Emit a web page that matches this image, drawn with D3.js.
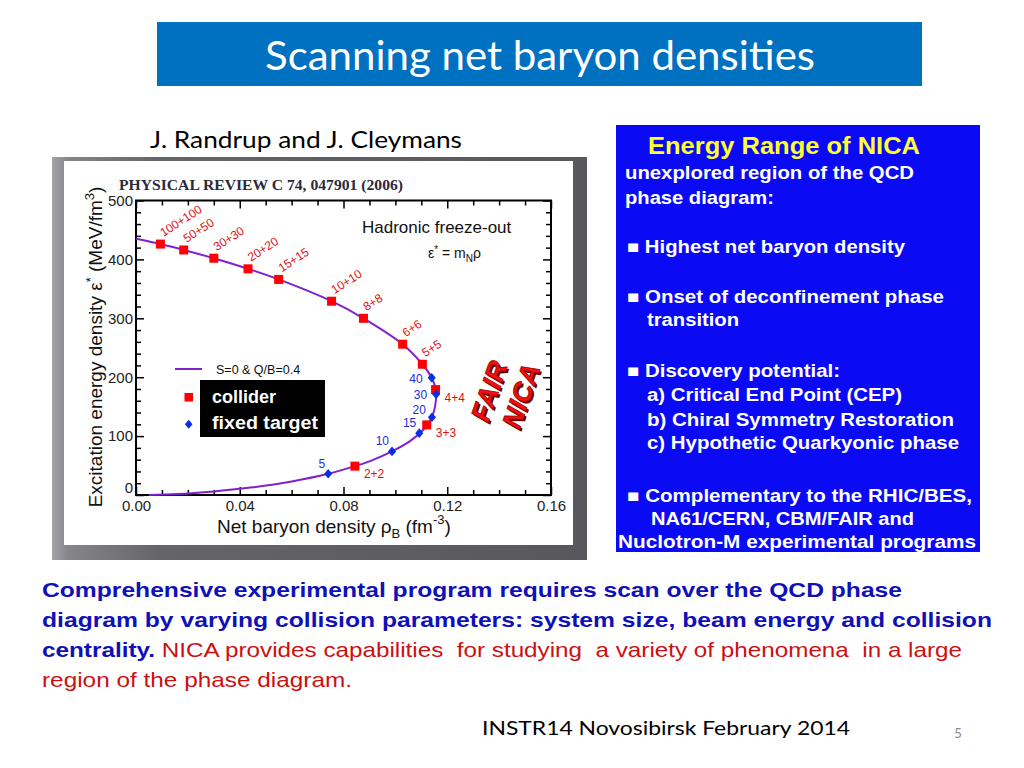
<!DOCTYPE html>
<html>
<head>
<meta charset="utf-8">
<script src="https://cdn.jsdelivr.net/npm/d3@7"></script>
<style>
  body { margin: 0; background: #fff; }
  svg { display: block; }
</style>
</head>
<body>
<svg id="slide" width="1024" height="768"></svg>
<script>
// collider points (red squares)
const colliderLabels = ["100+100", "50+50", "30+30", "20+20", "15+15", "10+10", "8+8", "6+6", "5+5", "4+4", "3+3", "2+2"];
const colliderRho = [0.0094, 0.0184, 0.0300, 0.0432, 0.0550, 0.0754, 0.0877, 0.1028, 0.1104, 0.1155, 0.1121, 0.0844];
const colliderEps = [426, 416, 402, 384, 366, 329, 300, 256, 222, 179, 119, 49];

// fixed target points (blue diamonds)
const fixedLabels = ["40", "30", "20", "15", "10", "5"];
const fixedRho = [0.1140, 0.1157, 0.1141, 0.1092, 0.0987, 0.0741];
const fixedEps = [199, 171, 132, 105, 74, 36];

// freeze-out curve S=0 & Q/B=0.4
const curveRho = [0.000, 0.0094, 0.0184, 0.0300, 0.0432, 0.0550, 0.0754, 0.0877, 0.1028, 0.1104, 0.1140, 0.1157, 0.1156, 0.1148, 0.1132, 0.1104, 0.1055, 0.0987, 0.0905, 0.0844, 0.0741, 0.0600, 0.0450, 0.0300, 0.0160, 0.0050];
const curveEps = [435, 426, 416, 402, 384, 366, 329, 300, 256, 222, 199, 177, 160, 141, 125, 109, 91, 74, 58, 49, 36, 23, 13, 6, 1.5, 0];

const xMajorTicks = [0, 0.04, 0.08, 0.12, 0.16];
const xMinorTicks = [0.01, 0.02, 0.03, 0.05, 0.06, 0.07, 0.09, 0.10, 0.11, 0.13, 0.14, 0.15];
const yMajorTicks = [0, 100, 200, 300, 400, 500];
const yMinorTicks = [20, 40, 60, 80, 120, 140, 160, 180, 220, 240, 260, 280, 320, 340, 360, 380, 420, 440, 460, 480];

const infoLines = [
  "unexplored region of the QCD",
  "phase diagram:",
  "\u25A0 Highest net baryon density",
  "\u25A0 Onset of deconfinement phase",
  "transition",
  "\u25A0 Discovery potential:",
  "a) Critical End Point (CEP)",
  "b) Chiral Symmetry Restoration",
  "c) Hypothetic Quarkyonic phase",
  "\u25A0 Complementary to the RHIC/BES,",
  "NA61/CERN, CBM/FAIR and",
  "Nuclotron-M experimental programs"
];

const arial = "'Liberation Sans', Arial, sans-serif";
const calibri = "Lato, 'Open Sans', sans-serif";

const svg = d3.select("#slide");

// ---- title bar ----
svg.append("rect").attr("x", 157).attr("y", 22).attr("width", 765).attr("height", 64).attr("fill", "#0070c0");
svg.append("text").attr("x", 540).attr("y", 70).attr("text-anchor", "middle")
  .attr("font-family", calibri).attr("font-size", 40).attr("fill", "#fff")
  .attr("textLength", 550).attr("lengthAdjust", "spacingAndGlyphs")
  .text("Scanning net baryon densities");

svg.append("text").attr("x", 150).attr("y", 148)
  .attr("font-family", calibri).attr("font-size", 24).attr("fill", "#000")
  .attr("textLength", 312).attr("lengthAdjust", "spacingAndGlyphs")
  .text("J. Randrup and J. Cleymans");

// ---- chart frame ----
const defs = svg.append("defs");
const grad = defs.append("linearGradient").attr("id", "frameGrad").attr("x1", "0").attr("x2", "1").attr("y1", "0").attr("y2", "0");
grad.append("stop").attr("offset", "0%").attr("stop-color", "#a2a2a8");
grad.append("stop").attr("offset", "3%").attr("stop-color", "#85858b");
grad.append("stop").attr("offset", "20%").attr("stop-color", "#646469");
grad.append("stop").attr("offset", "100%").attr("stop-color", "#58585c");
svg.append("rect").attr("x", 52).attr("y", 157).attr("width", 535).attr("height", 403).attr("fill", "url(#frameGrad)");
svg.append("rect").attr("x", 64).attr("y", 161).attr("width", 509).attr("height", 384).attr("fill", "#fff");

const x = d3.scaleLinear().domain([0, 0.16]).range([136, 551]);
const y = d3.scaleLinear().domain([0, 500]).range([495, 200.5]);

const chart = svg.append("g");

chart.append("text").attr("x", 119).attr("y", 190)
  .attr("font-family", "'Liberation Serif', 'Times New Roman', serif").attr("font-weight", "bold")
  .attr("font-size", 14).attr("fill", "#2a2a3c")
  .attr("textLength", 284).attr("lengthAdjust", "spacingAndGlyphs")
  .text("PHYSICAL REVIEW C 74, 047901 (2006)");

function styleAxis(g) {
  g.select(".domain").remove();
  g.selectAll(".tick line").attr("stroke", "#000").attr("stroke-width", 1.5);
  g.selectAll("text").attr("font-family", arial).attr("font-size", 15).attr("fill", "#222");
}

chart.append("g").attr("transform", `translate(0,${y(0)})`)
  .call(d3.axisBottom(x).tickValues(xMajorTicks).tickSize(-8).tickSizeOuter(0).tickPadding(5).tickFormat(d3.format(".2f")))
  .call(styleAxis);
chart.append("g").attr("transform", `translate(0,${y(0)})`)
  .call(d3.axisBottom(x).tickValues(xMinorTicks).tickSize(-5).tickSizeOuter(0).tickFormat(""))
  .call(styleAxis);
chart.append("g").attr("transform", `translate(0,${y(500)})`)
  .call(d3.axisTop(x).tickValues(xMajorTicks).tickSize(-8).tickSizeOuter(0).tickFormat(""))
  .call(styleAxis);
chart.append("g").attr("transform", `translate(0,${y(500)})`)
  .call(d3.axisTop(x).tickValues(xMinorTicks).tickSize(-5).tickSizeOuter(0).tickFormat(""))
  .call(styleAxis);
chart.append("g").attr("transform", `translate(${x(0)},0)`)
  .call(d3.axisLeft(y).tickValues(yMajorTicks).tickSize(-8).tickSizeOuter(0).tickPadding(3))
  .call(styleAxis)
  .call(g => g.selectAll(".tick text").filter(d => d === 0).attr("dy", "-0.2em"));
chart.append("g").attr("transform", `translate(${x(0)},0)`)
  .call(d3.axisLeft(y).tickValues(yMinorTicks).tickSize(-5).tickSizeOuter(0).tickFormat(""))
  .call(styleAxis);
chart.append("g").attr("transform", `translate(${x(0.16)},0)`)
  .call(d3.axisRight(y).tickValues(yMajorTicks).tickSize(-8).tickSizeOuter(0).tickFormat(""))
  .call(styleAxis);
chart.append("g").attr("transform", `translate(${x(0.16)},0)`)
  .call(d3.axisRight(y).tickValues(yMinorTicks).tickSize(-5).tickSizeOuter(0).tickFormat(""))
  .call(styleAxis);

chart.append("rect").attr("x", x(0)).attr("y", y(500))
  .attr("width", x(0.16) - x(0)).attr("height", y(0) - y(500))
  .attr("fill", "none").attr("stroke", "#000").attr("stroke-width", 2);

// axis titles
const yTitle = chart.append("text").attr("transform", `translate(102,347) rotate(-90)`)
  .attr("text-anchor", "middle").attr("font-family", arial).attr("font-size", 19).attr("fill", "#111");
yTitle.append("tspan").text("Excitation energy density \u03B5");
yTitle.append("tspan").attr("dy", -7).attr("font-size", 13).text("*");
yTitle.append("tspan").attr("dy", 7).text(" (MeV/fm");
yTitle.append("tspan").attr("dy", -8).attr("font-size", 13).text("3");
yTitle.append("tspan").attr("dy", 8).text(")");

const xTitle = chart.append("text").attr("x", 217).attr("y", 533)
  .attr("font-family", arial).attr("font-size", 19).attr("fill", "#111");
xTitle.append("tspan").text("Net baryon density \u03C1");
xTitle.append("tspan").attr("dy", 5).attr("font-size", 13).text("B");
xTitle.append("tspan").attr("dy", -5).text(" (fm");
xTitle.append("tspan").attr("dy", -9).attr("font-size", 13).text("-3");
xTitle.append("tspan").attr("dy", 9).text(")");

// annotation
chart.append("text").attr("x", 362).attr("y", 233)
  .attr("font-family", arial).attr("font-size", 17).attr("fill", "#111").text("Hadronic freeze-out");
const eq = chart.append("text").attr("x", 428).attr("y", 258)
  .attr("font-family", arial).attr("font-size", 14).attr("fill", "#111");
eq.append("tspan").text("\u03B5");
eq.append("tspan").attr("dy", -5).attr("font-size", 10).text("*");
eq.append("tspan").attr("dy", 5).text(" = m");
eq.append("tspan").attr("dy", 4).attr("font-size", 10).text("N");
eq.append("tspan").attr("dy", -4).text("\u03C1");

// curve
const curveData = curveRho.map((r, i) => ({ rho: r, eps: curveEps[i] }));
const line = d3.line().x(d => x(d.rho)).y(d => y(d.eps)).curve(d3.curveCatmullRom.alpha(0.5));
chart.append("path").datum(curveData).attr("d", line)
  .attr("fill", "none").attr("stroke", "#8020d0").attr("stroke-width", 2);

// collider points
const collider = colliderLabels.map((l, i) => ({ label: l, rho: colliderRho[i], eps: colliderEps[i] }));
chart.selectAll(".coll").data(collider).enter().append("rect").attr("class", "coll")
  .attr("x", d => x(d.rho) - 4.5).attr("y", d => y(d.eps) - 4.5)
  .attr("width", 9).attr("height", 9).attr("fill", "#ff0000");

chart.selectAll(".collLabel").data(collider).enter().append("text").attr("class", "collLabel")
  .attr("font-family", arial).attr("font-size", 12).attr("fill", "#e01010")
  .attr("transform", d => d.eps > 200
    ? `translate(${x(d.rho) + 3},${y(d.eps) - 7}) rotate(-33)`
    : `translate(${x(d.rho) + 9},${y(d.eps) + 12})`)
  .text(d => d.label);

// fixed target points
const fixed = fixedLabels.map((l, i) => ({ label: l, rho: fixedRho[i], eps: fixedEps[i] }));
const diamond = d3.symbol(d3.symbolSquare, 46);
chart.selectAll(".fix").data(fixed).enter().append("path").attr("class", "fix")
  .attr("d", diamond)
  .attr("transform", d => `translate(${x(d.rho)},${y(d.eps)}) scale(0.85,1) rotate(45)`)
  .attr("fill", "#0a2ee8");

chart.selectAll(".fixLabel").data(fixed).enter().append("text").attr("class", "fixLabel")
  .attr("font-family", arial).attr("font-size", 12).attr("fill", "#1a2ee0").attr("text-anchor", "end")
  .attr("x", d => d.eps > 150 ? x(d.rho) - 9 : d.eps > 120 ? x(d.rho) - 6 : x(d.rho) - 3)
  .attr("y", d => d.eps > 150 ? y(d.eps) + 5 : d.eps > 120 ? y(d.eps) - 3 : y(d.eps) - 6)
  .text(d => d.label);

// legend
chart.append("line").attr("x1", 175).attr("x2", 202).attr("y1", 369).attr("y2", 369)
  .attr("stroke", "#8020d0").attr("stroke-width", 2);
chart.append("text").attr("x", 216).attr("y", 374)
  .attr("font-family", arial).attr("font-size", 12.5).attr("fill", "#111").text("S=0 & Q/B=0.4");
chart.append("rect").attr("x", 200).attr("y", 380).attr("width", 125).attr("height", 57).attr("fill", "#000");
chart.append("rect").attr("x", 184.5).attr("y", 393).attr("width", 8.5).attr("height", 8.5).attr("fill", "#ff0000");
chart.append("path").attr("d", d3.symbol(d3.symbolSquare, 40))
  .attr("transform", "translate(188.7,424.3) scale(0.85,1) rotate(45)").attr("fill", "#0a2ee8");
chart.append("text").attr("x", 212).attr("y", 403)
  .attr("font-family", arial).attr("font-weight", "bold").attr("font-size", 18).attr("fill", "#fff").text("collider");
chart.append("text").attr("x", 212).attr("y", 429)
  .attr("font-family", arial).attr("font-weight", "bold").attr("font-size", 18).attr("fill", "#fff")
  .attr("textLength", 106).attr("lengthAdjust", "spacingAndGlyphs").text("fixed target");

// FAIR / NICA stamp
[["FAIR", 489, 391], ["NICA", 521, 396]].forEach(([t, cx, cy]) => {
  chart.append("text").attr("transform", `translate(${cx + 2},${cy + 2}) rotate(-71)`)
    .attr("text-anchor", "middle").attr("dy", "0.35em")
    .attr("font-family", arial).attr("font-weight", "bold").attr("font-style", "italic")
    .attr("font-size", 27).attr("fill", "#5a0000").text(t);
  chart.append("text").attr("transform", `translate(${cx},${cy}) rotate(-71)`)
    .attr("text-anchor", "middle").attr("dy", "0.35em")
    .attr("font-family", arial).attr("font-weight", "bold").attr("font-style", "italic")
    .attr("font-size", 27).attr("fill", "#f01010").attr("stroke", "#a00000").attr("stroke-width", 0.8).text(t);
});

// ---- right info box ----
svg.append("rect").attr("x", 616).attr("y", 125).attr("width", 364).attr("height", 427).attr("fill", "#0a0af5");
svg.append("text").attr("x", 648).attr("y", 154)
  .attr("font-family", arial).attr("font-weight", "bold").attr("font-size", 23).attr("fill", "#ffff33")
  .attr("textLength", 272).attr("lengthAdjust", "spacingAndGlyphs").text("Energy Range of NICA");

const infoX = [625, 625, 627, 627, 647, 627, 647, 647, 647, 627, 651, 618];
const infoY = [179, 204, 253, 303, 326, 377, 401, 426, 449, 502, 525, 548];
const infoW = [289, 149, 278, 317, 92, 213, 255, 307, 312, 345, 263, 358];
infoLines.forEach((t, i) => {
  svg.append("text").attr("x", infoX[i]).attr("y", infoY[i])
    .attr("font-family", arial).attr("font-weight", "bold").attr("font-size", 17.5).attr("fill", "#fff")
    .attr("textLength", infoW[i]).attr("lengthAdjust", "spacingAndGlyphs")
    .text(t);
});

// ---- bottom text ----
const blue = "#1010b8", red = "#cc1010";
const bottom = [
  [["Comprehensive experimental program requires scan over the QCD phase", blue, "bold", 860]],
  [["diagram by varying collision parameters: system size, beam energy and collision", blue, "bold", 950]],
  [["centrality.", blue, "bold", 113], [" NICA provides capabilities  for studying  a variety of phenomena  in a large", red, "normal", 807]],
  [["region of the phase diagram.", red, "normal", 310]]
];
const bottomY = [597, 627, 657, 687];
bottom.forEach((parts, i) => {
  let cx = 42;
  parts.forEach(([t, c, w, len]) => {
    svg.append("text").attr("x", cx).attr("y", bottomY[i]).attr("xml:space", "preserve")
      .attr("font-family", arial).attr("font-weight", w).attr("font-size", 21).attr("fill", c)
      .attr("textLength", len).attr("lengthAdjust", "spacingAndGlyphs").text(t);
    cx += len;
  });
});

// footer
svg.append("text").attr("x", 482).attr("y", 735)
  .attr("font-family", calibri).attr("font-size", 20).attr("fill", "#000")
  .attr("textLength", 368).attr("lengthAdjust", "spacingAndGlyphs").text("INSTR14 Novosibirsk February 2014");
svg.append("text").attr("x", 958).attr("y", 738).attr("text-anchor", "middle")
  .attr("font-family", calibri).attr("font-size", 13).attr("fill", "#8a8a8a").text("5");
</script>
</body>
</html>
